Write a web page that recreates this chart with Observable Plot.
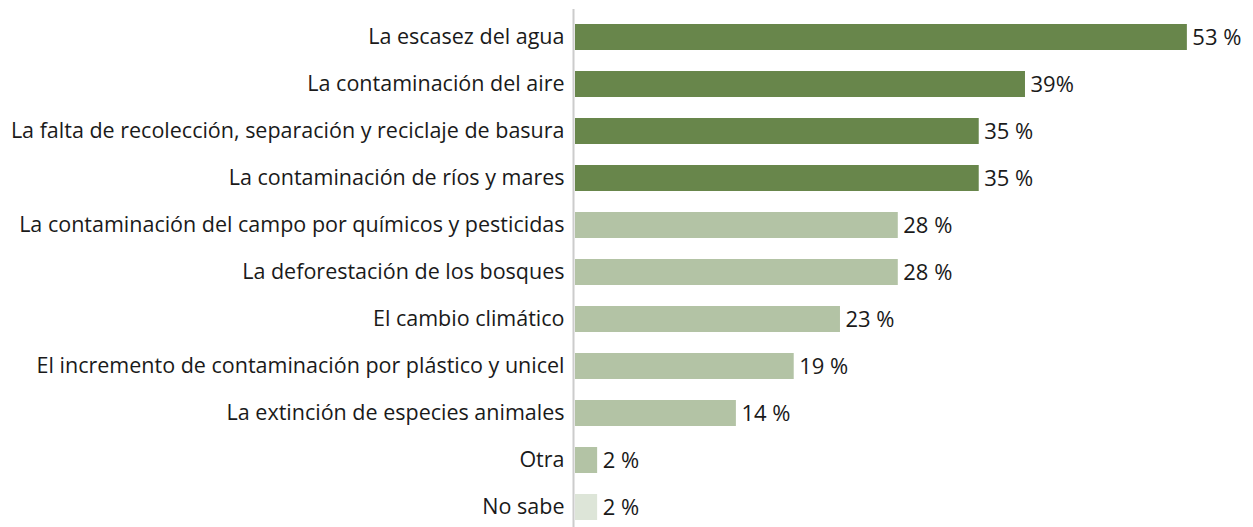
<!DOCTYPE html>
<html>
<head>
<meta charset="utf-8">
<script src="https://cdn.jsdelivr.net/npm/d3@7"></script>
<script src="https://cdn.jsdelivr.net/npm/@observablehq/plot@0.6"></script>
<style>
  html, body { margin: 0; padding: 0; background: #fff; }
  svg { display: block; }
</style>
</head>
<body>
<div id="chart"></div>
<script>
const categories = [
  "La escasez del agua",
  "La contaminación del aire",
  "La falta de recolección, separación y reciclaje de basura",
  "La contaminación de ríos y mares",
  "La contaminación del campo por químicos y pesticidas",
  "La deforestación de los bosques",
  "El cambio climático",
  "El incremento de contaminación por plástico y unicel",
  "La extinción de especies animales",
  "Otra",
  "No sabe"
];
const values = [53, 39, 35, 35, 28, 28, 23, 19, 14, 2, 2];
const valueLabels = ["53\u00A0%", "39%", "35\u00A0%", "35\u00A0%", "28\u00A0%", "28\u00A0%", "23\u00A0%", "19\u00A0%", "14\u00A0%", "2\u00A0%", "2\u00A0%"];
const groups = ["top", "top", "top", "top", "other", "other", "other", "other", "other", "other", "nosabe"];

const data = categories.map((c, i) => ({category: c, value: values[i], label: valueLabels[i], group: groups[i]}));

const chart = Plot.plot({
  width: 1253,
  height: 527,
  marginLeft: 574,
  marginRight: 43,
  marginTop: 17,
  marginBottom: 0,
  style: {fontFamily: "'Open Sans', sans-serif", fontSize: "21.5px", color: "#1a1a1a", background: "#fff"},
  x: {domain: [0, 55], axis: null},
  y: {domain: categories, paddingInner: 0.45, paddingOuter: 0.1, label: null, tickSize: 0, tickPadding: 10},
  color: {domain: ["top", "other", "nosabe"], range: ["#68864b", "#b3c3a5", "#dde5d8"]},
  marks: [
    Plot.barX(data, {x: "value", y: "category", fill: "group", insetLeft: 1}),
    Plot.ruleX([0], {stroke: "#cccccc", strokeWidth: 2, insetTop: -8, dx: -1}),
    Plot.axisY({tickSize: 0, tickPadding: 10, fontSize: 21.5, label: null}),
    Plot.text(data, {x: "value", y: "category", text: "label", textAnchor: "start", dx: 5, fontSize: 22, fill: "#1a1a1a"})
  ]
});
document.getElementById("chart").append(chart);
</script>
</body>
</html>
